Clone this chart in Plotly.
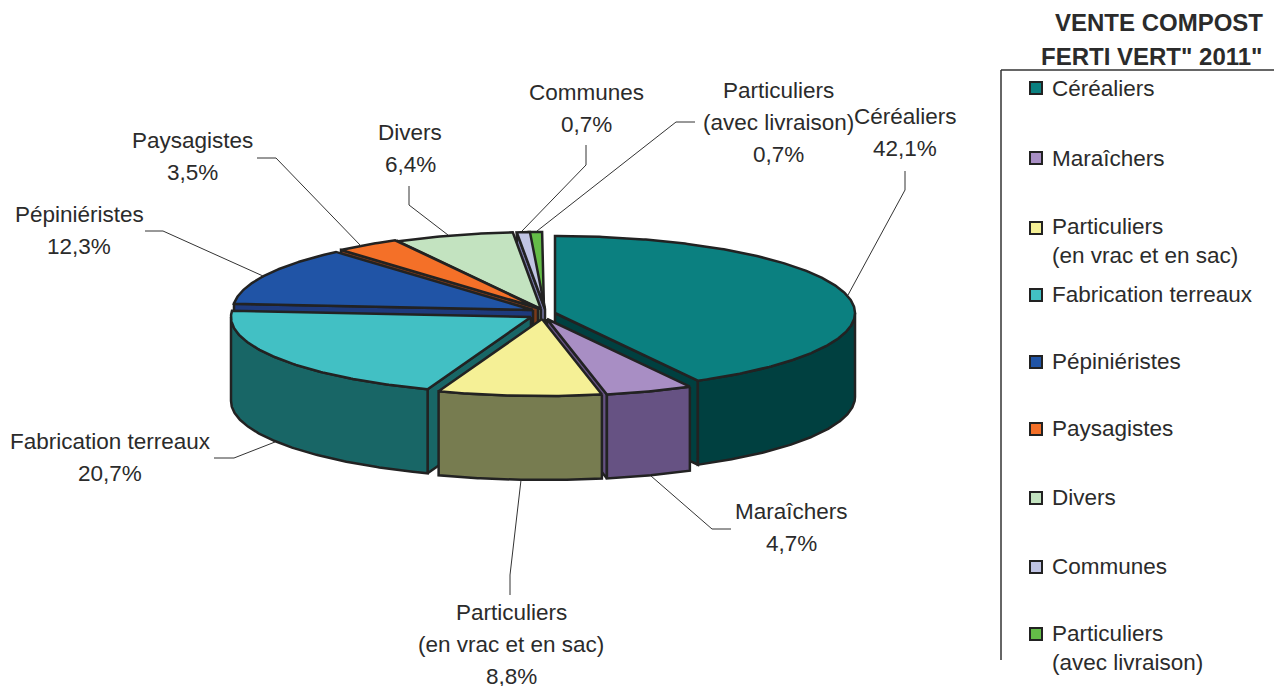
import numpy as np
import plotly.graph_objects as go

    # Data
categories = ['Céréaliers', 'Maraîchers', 'Particuliers (en vrac et en sac)', 'Fabrication terreaux',
              'Pépiniéristes', 'Paysagistes', 'Divers', 'Communes', 'Particuliers (avec livraison)']
values = [42.1, 4.7, 8.8, 20.7, 12.3, 3.5, 6.4, 0.7, 0.7]
pct_labels = ['42,1%', '4,7%', '8,8%', '20,7%', '12,3%', '3,5%', '6,4%', '0,7%', '0,7%']
name_lines = [['Céréaliers'], ['Maraîchers'], ['Particuliers', '(en vrac et en sac)'], ['Fabrication terreaux'],
              ['Pépiniéristes'], ['Paysagistes'], ['Divers'], ['Communes'], ['Particuliers', '(avec livraison)']]
title_lines = ['VENTE COMPOST', 'FERTI VERT" 2011"']

    # Styles
top_colors = ['#0B8080', '#A88EC4', '#F5F096', '#42C0C4', '#2054A6', '#F47028', '#C3E3C0', '#C0C4E4', '#64BC48']
wall_colors = ['#004040', '#665283', '#777C50', '#186666', '#1E3A7C', '#7A3A1A', '#6F8A70', '#7878A8', '#3C7030']
edge = '#222222'
text_col = '#2B2B2B'
font = 'Liberation Sans'

    # Pie geometry, slice centres carry the explosion
rx, ry, depth = 300, 77, 84
centers = [(555, 313), (547, 319), (542, 319), (531, 317), (533, 310), (538, 308), (541, 309), (545, 309), (544, 309)]
draw_order = [8, 7, 6, 5, 4, 3, 0, 1, 2]

    # Label positions
label_x = [905, 791, 511, 110, 79, 192, 410, 586, 778]
label_y = [116, 511, 612, 441, 214, 140, 132, 92, 90]
line_gap = 32
leaders = [
    ([905, 905, 848], [171, 190, 295]),
    ([731, 712, 651], [529, 529, 476]),
    ([510, 510, 521], [595, 575, 480]),
    ([214, 234, 275], [458, 458, 442]),
    ([145, 163, 263], [231, 231, 276]),
    ([257, 276, 361], [158, 158, 246]),
    ([409, 409, 448], [186, 205, 235]),
    ([586, 586, 522], [145, 165, 231]),
    ([695, 676, 537], [122, 122, 231]),
]
legend_marker_y = [88, 158, 228, 295, 362, 429, 498, 567, 634]
legend_text_y = [88, 158, 226, 294, 361, 428, 497, 566, 633]


def rim(c, a0, a1, dy=0):
    t = np.radians(np.linspace(a0, a1, max(int(abs(a1 - a0)) * 2, 2)))
    return c[0] + rx * np.sin(t), c[1] - ry * np.cos(t) + dy


def poly(fig, xs, ys, color):
    fig.add_trace(go.Scatter(x=list(xs), y=list(ys), mode='lines', fill='toself', fillcolor=color,
                             line=dict(color=edge, width=2.5), hoverinfo='skip'))


def cut_face(fig, c, angle, color):
    ex, ey = rim(c, angle, angle)
    ex, ey = ex[0], ey[0]
    poly(fig, [c[0], ex, ex, c[0], c[0]], [c[1], ey, ey + depth, c[1] + depth, c[1]], color)


fig = go.Figure()

ends = np.cumsum(values) * 3.6
starts = ends - np.array(values) * 3.6

for i in draw_order:
    c, s, e = centers[i], starts[i], ends[i]
    if np.sin(np.radians(s)) < 0:
        cut_face(fig, c, s, wall_colors[i])
    if np.sin(np.radians(e)) > 0:
        cut_face(fig, c, e, wall_colors[i])
    # outer wall, only the part facing front
    a0, a1 = max(s, 90), min(e, 270)
    if a1 > a0:
        x1, y1 = rim(c, a0, a1)
        x2, y2 = rim(c, a1, a0, depth)
        poly(fig, np.r_[x1, x2, x1[0]], np.r_[y1, y2, y1[0]], wall_colors[i])
    xt, yt = rim(c, s, e)
    poly(fig, np.r_[c[0], xt, c[0]], np.r_[c[1], yt, c[1]], top_colors[i])

    # Leader lines
for lx, ly in leaders:
    fig.add_trace(go.Scatter(x=lx, y=ly, mode='lines', line=dict(color='#333333', width=1), hoverinfo='skip'))

    # Legend markers
fig.add_trace(go.Scatter(x=[1036] * len(categories), y=legend_marker_y, mode='markers', hoverinfo='skip',
                         marker=dict(symbol='square', size=12, color=top_colors, line=dict(color=edge, width=2))))


def text(x, y, s, anchor='center', size=22.5, bold=False):
    fig.add_annotation(x=x, y=y, text='<b>' + s + '</b>' if bold else s, showarrow=False, xanchor=anchor,
                       yanchor='middle', xref='x', yref='y',
                       font=dict(family=font, size=size, color=text_col))


    # Data labels, one annotation a line to keep the line spacing
for i in range(len(categories)):
    lines = name_lines[i] + [pct_labels[i]]
    for n, s in enumerate(lines):
        text(label_x[i], label_y[i] + n * line_gap, s)

    # Legend text
for i in range(len(categories)):
    text(1050, legend_text_y[i], name_lines[i][0], anchor='left')
    if len(name_lines[i]) > 1:
        text(1050, legend_text_y[i] + 29, name_lines[i][1], anchor='left')

text(1265, 22, title_lines[0], anchor='right', size=24, bold=True)
text(1265, 56, title_lines[1], anchor='right', size=24, bold=True)

    # Legend frame
fig.add_shape(type='line', x0=1001, x1=1001, y0=70, y1=660, xref='x', yref='y', line=dict(color='#333333', width=1.5))
fig.add_shape(type='line', x0=1001, x1=1274, y0=70, y1=70, xref='x', yref='y', line=dict(color='#333333', width=1.5))

fig.update_layout(width=1274, height=686, margin=dict(l=0, r=0, t=0, b=0), showlegend=False,
                  paper_bgcolor='white', plot_bgcolor='white',
                  xaxis=dict(range=[0, 1274], visible=False),
                  yaxis=dict(range=[686, 0], visible=False))

fig.write_html("out.html", config={'displayModeBar': False}, post_script="document.body.style.margin='0';")
